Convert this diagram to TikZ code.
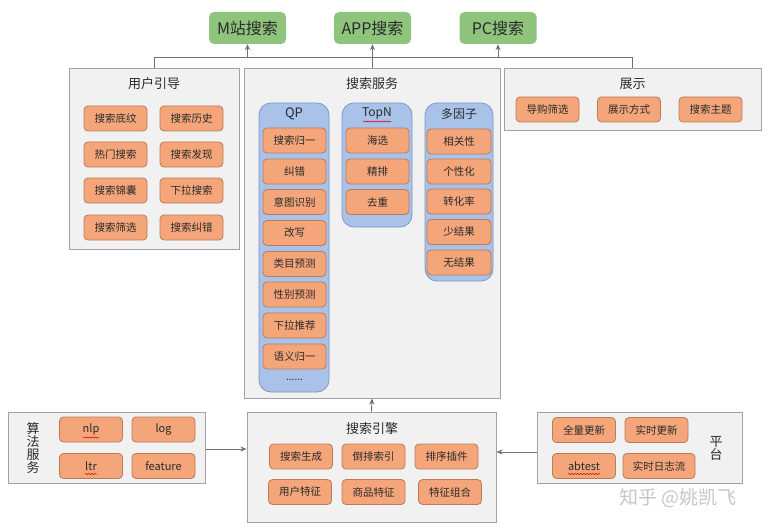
\documentclass[tikz,border=0pt]{standalone}
\usepackage{fontspec}
\setmainfont{Noto Sans CJK SC}
\usetikzlibrary{arrows.meta,decorations.pathmorphing}
\definecolor{gfill}{HTML}{8FC47D}
\definecolor{ofill}{HTML}{F4A67A}
\definecolor{odraw}{HTML}{B87C58}
\definecolor{bfill}{HTML}{A9C2E9}
\definecolor{bdraw}{HTML}{7D97C3}
\definecolor{pfill}{HTML}{F1F1F1}
\definecolor{pdraw}{HTML}{A2A2A2}
\definecolor{txt}{HTML}{2A2A2A}
\definecolor{lnc}{HTML}{707070}
\tikzset{
  x=1pt, y=-1pt,
  green/.style={fill=gfill, draw=none, rounded corners=5pt, minimum width=77pt, minimum height=32pt, inner sep=0pt, font=\fontsize{16}{18}\selectfont, text=txt},
  ob/.style={fill=ofill, draw=odraw, line width=0.8pt, rounded corners=4pt, minimum width=63pt, minimum height=25pt, inner sep=0pt, font=\fontsize{10.5}{12}\selectfont, text=txt},
  blue/.style={fill=bfill, draw=bdraw, line width=0.8pt, rounded corners=12pt, inner sep=0pt},
  panel/.style={fill=pfill, draw=pdraw, line width=1pt, inner sep=0pt},
  ttl/.style={font=\fontsize{13}{15}\selectfont, text=txt, inner sep=0pt},
  btl/.style={font=\fontsize{12}{14}\selectfont, text=txt, inner sep=0pt},
  conn/.style={draw=lnc, line width=0.9pt},
  arr/.style={conn, -{Stealth[length=6pt,width=5pt]}},
  wavy/.style={draw=red!80!black, line width=0.5pt, decorate, decoration={snake, amplitude=0.6pt, segment length=3pt}}
}
\begin{document}
\begin{tikzpicture}
\useasboundingbox[fill=white] (0,0) rectangle (768,532);

% top targets
\node[green] (m) at (247.5,28) {M站搜索};
\node[green] (app) at (372.5,28) {APP搜索};
\node[green] (pc) at (498,28) {PC搜索};

% panels
\node[panel, minimum width=170pt, minimum height=180pt] (yh) at (154,159) {};
\node[panel, minimum width=256pt, minimum height=329pt] (ss) at (372,233.5) {};
\node[panel, minimum width=257pt, minimum height=62pt] (zs) at (632.5,100) {};
\node[panel, minimum width=249pt, minimum height=110pt] (se) at (371.5,467) {};
\node[panel, minimum width=197pt, minimum height=71pt] (sf) at (106.5,447.5) {};
\node[panel, minimum width=205pt, minimum height=71pt] (pt) at (639.5,447.5) {};

% titles
\node[ttl] (yht) at (154,84) {用户引导};
\node[ttl] (sst) at (372,84) {搜索服务};
\node[ttl] (zst) at (632.5,84) {展示};
\node[ttl] (set) at (372,429) {搜索引擎};
\node[align=center, inner sep=0pt, text=txt, font=\fontsize{13}{12.8}\selectfont] (sft) at (33,448) {算\\法\\服\\务};
\node[align=center, inner sep=0pt, text=txt, font=\fontsize{13}{13}\selectfont] (ptt) at (716,448) {平\\台};

% 用户引导 items
\node[ob] (u1) at (115.5,118.5) {搜索底纹};
\node[ob] (u2) at (191.5,118.5) {搜索历史};
\node[ob] (u3) at (115.5,154.5) {热门搜索};
\node[ob] (u4) at (191.5,154.5) {搜索发现};
\node[ob] (u5) at (115.5,190.5) {搜索锦囊};
\node[ob] (u6) at (191.5,190.5) {下拉搜索};
\node[ob] (u7) at (115.5,227.5) {搜索筛选};
\node[ob] (u8) at (191.5,227.5) {搜索纠错};

% blue columns
\node[blue, minimum width=70pt, minimum height=289pt] (qp) at (294,247.5) {};
\node[blue, minimum width=70pt, minimum height=124pt] (tn) at (377,165) {};
\node[blue, minimum width=68pt, minimum height=178pt] (dy) at (459,192) {};
\node[btl, font=\fontsize{13}{15}\selectfont] (qpt) at (294,113.5) {QP};
\node[btl] (tnt) at (377,113.5) {TopN};
\node[btl] (dyt) at (459,113.5) {多因子};
\draw[wavy] ([xshift=-14pt,yshift=-8pt]tnt.center) -- ([xshift=14pt,yshift=-8pt]tnt.center);

% QP items
\node[ob] (q1) at (294.5,140.5) {搜索归一};
\node[ob] (q2) at (294.5,171.5) {纠错};
\node[ob] (q3) at (294.5,202) {意图识别};
\node[ob] (q4) at (294.5,233) {改写};
\node[ob] (q5) at (294.5,264) {类目预测};
\node[ob] (q6) at (294.5,294.5) {性别预测};
\node[ob] (q7) at (294.5,325.5) {下拉推荐};
\node[ob] (q8) at (294.5,356.5) {语义归一};
\node[inner sep=0pt, text=txt, font=\fontsize{10}{12}\selectfont] (q9) at (294.5,380) {......};

% TopN items
\node[ob] (t1) at (377.5,140.5) {海选};
\node[ob] (t2) at (377.5,171.5) {精排};
\node[ob] (t3) at (377.5,202) {去重};

% 多因子 items
\node[ob, minimum width=64pt] (d1) at (459,141.5) {相关性};
\node[ob, minimum width=64pt] (d2) at (459,171.5) {个性化};
\node[ob, minimum width=64pt] (d3) at (459,201.5) {转化率};
\node[ob, minimum width=64pt] (d4) at (459,232) {少结果};
\node[ob, minimum width=64pt] (d5) at (459,262.5) {无结果};

% 展示 items
\node[ob] (z1) at (547.5,109.5) {导购筛选};
\node[ob] (z2) at (629,109.5) {展示方式};
\node[ob] (z3) at (710.5,109.5) {搜索主题};

% 搜索引擎 items
\node[ob] (e1) at (301,456.5) {搜索生成};
\node[ob] (e2) at (373.5,456.5) {倒排索引};
\node[ob] (e3) at (446.5,456.5) {排序插件};
\node[ob] (e4) at (300,492) {用户特征};
\node[ob] (e5) at (373.5,492) {商品特征};
\node[ob] (e6) at (450,492) {特征组合};

% 算法服务 items
\node[ob, font=\fontsize{11}{13}\selectfont] (a1) at (91,429.5) {nlp};
\node[ob, font=\fontsize{11}{13}\selectfont] (a2) at (163.5,429.5) {log};
\node[ob, font=\fontsize{11}{13}\selectfont] (a3) at (91,466) {ltr};
\node[ob, font=\fontsize{11}{13}\selectfont] (a4) at (163.5,466) {feature};
\draw[wavy] ([xshift=-8pt,yshift=-8pt]a1.center) -- ([xshift=8pt,yshift=-8pt]a1.center);
\draw[wavy] ([xshift=-6pt,yshift=-8pt]a3.center) -- ([xshift=6pt,yshift=-8pt]a3.center);

% 平台 items
\node[ob] (p1) at (584,430) {全量更新};
\node[ob] (p2) at (656.5,430) {实时更新};
\node[ob, font=\fontsize{11}{13}\selectfont] (p3) at (584,466) {abtest};
\node[ob, minimum width=72pt] (p4) at (659,466) {实时日志流};
\draw[wavy] ([xshift=-16pt,yshift=-8pt]p3.center) -- ([xshift=16pt,yshift=-8pt]p3.center);

% connectors
\draw[conn] (yh.north) -- ++(0,-11) coordinate (bl) -| (zs.north);
\draw[conn] (ss.north) -- (ss.north |- bl);
\draw[arr] (m.south |- bl) -- (m.south);
\draw[arr] (app.south |- bl) -- (app.south);
\draw[arr] (pc.south |- bl) -- (pc.south);
\draw[arr] (se.north) -- (ss.south);
\draw[arr] ([yshift=-1.5pt]sf.east) coordinate (l1) -- (l1 -| se.west);
\draw[arr] ([yshift=-4.5pt]pt.west) coordinate (l2) -- (l2 -| se.east);

% watermark
\node[inner sep=0pt, text=black!22, font=\fontsize{19}{21}\selectfont] (wm) at (678,498) {知乎 @姚凯飞};
\end{tikzpicture}
\end{document}
